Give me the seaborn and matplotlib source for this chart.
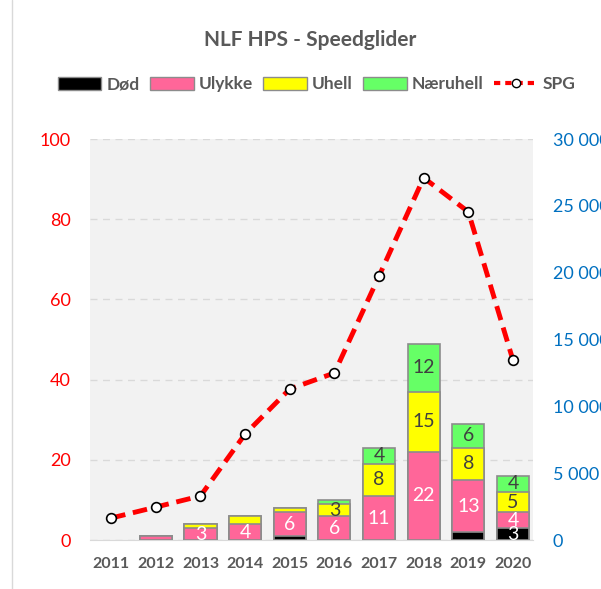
import numpy as np
import pandas as pd
import matplotlib.pyplot as plt
import matplotlib.lines as mlines
import matplotlib.patches as mpatches
import seaborn as sns

years = ['2011', '2012', '2013', '2014', '2015', '2016', '2017', '2018', '2019', '2020']
dod = [0, 0, 0, 0, 1, 0, 0, 0, 2, 3]
ulykke = [0, 1, 3, 4, 6, 6, 11, 22, 13, 4]
uhell = [0, 0, 1, 2, 1, 3, 8, 15, 8, 5]
naeruhell = [0, 0, 0, 0, 0, 1, 4, 12, 6, 4]
spg = [1650, 2470, 3300, 7930, 11300, 12500, 19750, 27100, 24550, 13450]

series_names = ['Død', 'Ulykke', 'Uhell', 'Næruhell']
series_vals = [dod, ulykke, uhell, naeruhell]
colors = ['#000000', '#FF6699', '#FFFF00', '#66FF66']
label_colors = ['white', 'white', '#404040', '#404040']

sns.set_style('white')
plt.rcParams['font.family'] = ['Lato', 'DejaVu Sans']

fig = plt.figure(figsize=(6.01, 5.89), dpi=100)
ax = fig.add_axes([0.150, 0.083, 0.737, 0.681])
ax.set_facecolor('#F2F2F2')

df = pd.DataFrame({'year': years})
cum = np.cumsum(np.array(series_vals), axis=0)

# draw cumulative totals from top series down so segments stack
for i in range(len(series_names) - 1, -1, -1):
    df['h'] = cum[i]
    sns.barplot(data=df, x='year', y='h', color=colors[i], width=0.72,
                edgecolor='#8C8C8C', linewidth=1.2, saturation=1, ax=ax, zorder=3)

# no outline on empty bars
for p in ax.patches:
    if p.get_height() == 0:
        p.set_linewidth(0)

# segment labels (only for 3 and above)
for i in range(len(series_names)):
    for j, v in enumerate(series_vals[i]):
        if v >= 3:
            ax.text(j, cum[i][j] - v / 2, str(v), ha='center', va='center',
                    fontsize=14, color=label_colors[i], zorder=5)

ax.set_ylim(0, 100)
ax.set_xlim(-0.47, 9.45)
ax.set_yticks(range(0, 101, 20))
ax.set_xlabel('')
ax.set_ylabel('')
ax.yaxis.grid(True, linestyle=(0, (5, 4)), color='#D9D9D9', linewidth=1, zorder=0)
ax.set_axisbelow(True)
for s in ['top', 'right', 'left']:
    ax.spines[s].set_visible(False)
ax.spines['bottom'].set_color('#D9D9D9')
ax.tick_params(axis='y', colors='#FF0000', labelsize=13, length=0, pad=14)
ax.tick_params(axis='x', colors='#595959', labelsize=11.5, length=0, pad=12)
for t in ax.get_xticklabels():
    t.set_fontweight('bold')

ax2 = ax.twinx()
sns.lineplot(x=np.arange(len(years)), y=spg, ax=ax2, color='#FF0000', linewidth=3.5,
             linestyle=(0, (3, 1.6)), marker='o', markersize=7,
             markerfacecolor='white', markeredgecolor='black', markeredgewidth=1.2,
             zorder=6)
ax2.set_ylim(0, 30000)
ax2.set_yticks(range(0, 30001, 5000))
ax2.set_yticklabels(['0'] + [f'{v // 1000} 000' for v in range(5000, 30001, 5000)])
ax2.tick_params(axis='y', colors='#0070C0', labelsize=13, length=0, pad=14)
for s in ax2.spines.values():
    s.set_visible(False)

fig.text(0.516, 0.932, 'NLF HPS - Speedglider', ha='center', va='center',
         fontsize=15, fontweight='bold', color='#595959')

handles = [mpatches.Patch(facecolor=c, edgecolor='#8C8C8C', label=n)
           for c, n in zip(colors, series_names)]
handles.append(mlines.Line2D([], [], color='#FF0000', linewidth=3, linestyle=(0, (1.5, 1.2)),
                             marker='o', markersize=6, markerfacecolor='white',
                             markeredgecolor='black', label='SPG'))
leg = fig.legend(handles=handles, loc='center', bbox_to_anchor=(0.527, 0.857), ncol=5,
                 frameon=False, handlelength=2.5, handleheight=0.75, columnspacing=0.6,
                 handletextpad=0.3, prop={'weight': 'bold', 'size': 12.5})
for t in leg.get_texts():
    t.set_color('#595959')

fig.add_artist(mlines.Line2D([12 / 601, 12 / 601], [0, 1], color='#D9D9D9', linewidth=1))

fig.savefig('out.png', dpi=100)
